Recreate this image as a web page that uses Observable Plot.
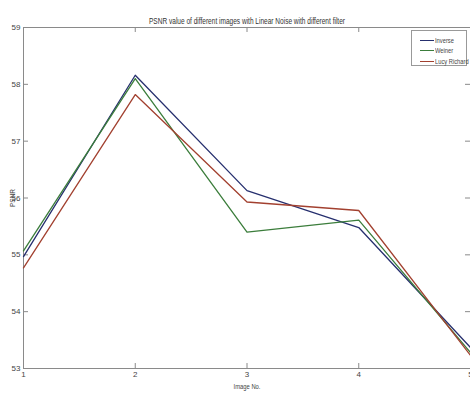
<!DOCTYPE html>
<html><head><meta charset="utf-8">
<script src="https://cdn.jsdelivr.net/npm/d3@7"></script>
<script src="https://cdn.jsdelivr.net/npm/@observablehq/plot@0.6"></script>
<style>
body{margin:0;background:#fff;font-family:"Liberation Sans",Arial,sans-serif}
#wrap{position:relative;width:470px;height:394px;overflow:hidden}
#legend{position:absolute;left:411px;top:30px;width:56px;height:36px;border:1px solid #999;background:#fff;font-size:8px;color:#444;box-sizing:border-box}
#legend .row{position:absolute;left:8px;height:10px;display:flex;align-items:center}
#legend .sw{width:14px;height:0;border-top:1.3px solid;margin-right:1px}
#legend .tx{display:inline-block;transform:scaleX(0.72);transform-origin:left center;white-space:nowrap}
</style></head><body><div id="wrap"></div>
<script>
const images = [1, 2, 3, 4, 5];
const inverse = [54.97, 58.16, 56.13, 55.48, 53.37];
const weiner  = [55.07, 58.10, 55.40, 55.61, 53.28];
const lucy    = [54.77, 57.82, 55.93, 55.78, 53.23];
const seriesNames = ["Inverse", "Weiner", "Lucy Richard"];
const seriesColors = ["#262f6e", "#3b7d3b", "#a2402f"];
const yTicks = [53, 54, 55, 56, 57, 58, 59];
const xTicks = [1, 2, 3, 4, 5];
const titleText = "PSNR value of different images with Linear Noise with different filter";
const xLabel = "Image No.";
const yLabel = "PSNR";

const seriesValues = [inverse, weiner, lucy];
const data = [];
seriesNames.forEach((s, i) => images.forEach((x, j) => data.push({series: s, x, y: seriesValues[i][j]})));

const W = 470, H = 394, mt = 27, mb = 26, ml = 23, mr = 0;
const fw = W - ml - mr, fh = H - mt - mb, tk = 5;

const chart = Plot.plot({
  width: W, height: H,
  marginTop: mt, marginBottom: mb, marginLeft: ml, marginRight: mr,
  style: {fontFamily: "Liberation Sans, Arial, sans-serif", fontSize: "8px", color: "#444", background: "#fff"},
  x: {domain: [1, 5]},
  y: {domain: [53, 59]},
  color: {domain: seriesNames, range: seriesColors},
  marks: [
    Plot.frame({stroke: "#8a8a8a"}),
    Plot.tickY(yTicks, {y: d => d, stroke: "#8a8a8a", insetRight: fw - tk}),
    Plot.tickY(yTicks, {y: d => d, stroke: "#8a8a8a", insetLeft: fw - tk}),
    Plot.tickX(xTicks, {x: d => d, stroke: "#8a8a8a", insetTop: fh - tk}),
    Plot.tickX(xTicks, {x: d => d, stroke: "#8a8a8a", insetBottom: fh - tk}),
    Plot.axisY({ticks: yTicks, tickSize: 0, tickPadding: 3, label: yLabel, labelAnchor: "center", labelArrow: "none", labelOffset: 14, tickFormat: d => String(d)}),
    Plot.axisX({ticks: xTicks, tickSize: 0, tickPadding: 3, label: xLabel, labelAnchor: "center", labelArrow: "none", labelOffset: 20, tickFormat: d => String(d)}),
    Plot.line(data, {x: "x", y: "y", z: "series", stroke: "series", strokeWidth: 1.3}),
    Plot.text([titleText], {text: d => d, frameAnchor: "top", dy: -10, fontSize: 9, fill: "#333", className: "ttl"})
  ]
});
document.getElementById("wrap").appendChild(chart);

// condense text like the reference
d3.select(chart).selectAll(".ttl text").attr("textLength", 196).attr("lengthAdjust", "spacingAndGlyphs");
d3.select(chart).selectAll("[aria-label='x-axis label'] text").attr("textLength", 27).attr("lengthAdjust", "spacingAndGlyphs");
d3.select(chart).selectAll("[aria-label='y-axis label'] text").attr("textLength", 18).attr("lengthAdjust", "spacingAndGlyphs");

const legend = d3.select("#wrap").append("div").attr("id", "legend");
seriesNames.forEach((s, i) => {
  const row = legend.append("div").attr("class", "row").style("top", (4 + i * 10.5) + "px");
  row.append("span").attr("class", "sw").style("border-color", seriesColors[i]);
  row.append("span").attr("class", "tx").text(s);
});
</script>
</body></html>
